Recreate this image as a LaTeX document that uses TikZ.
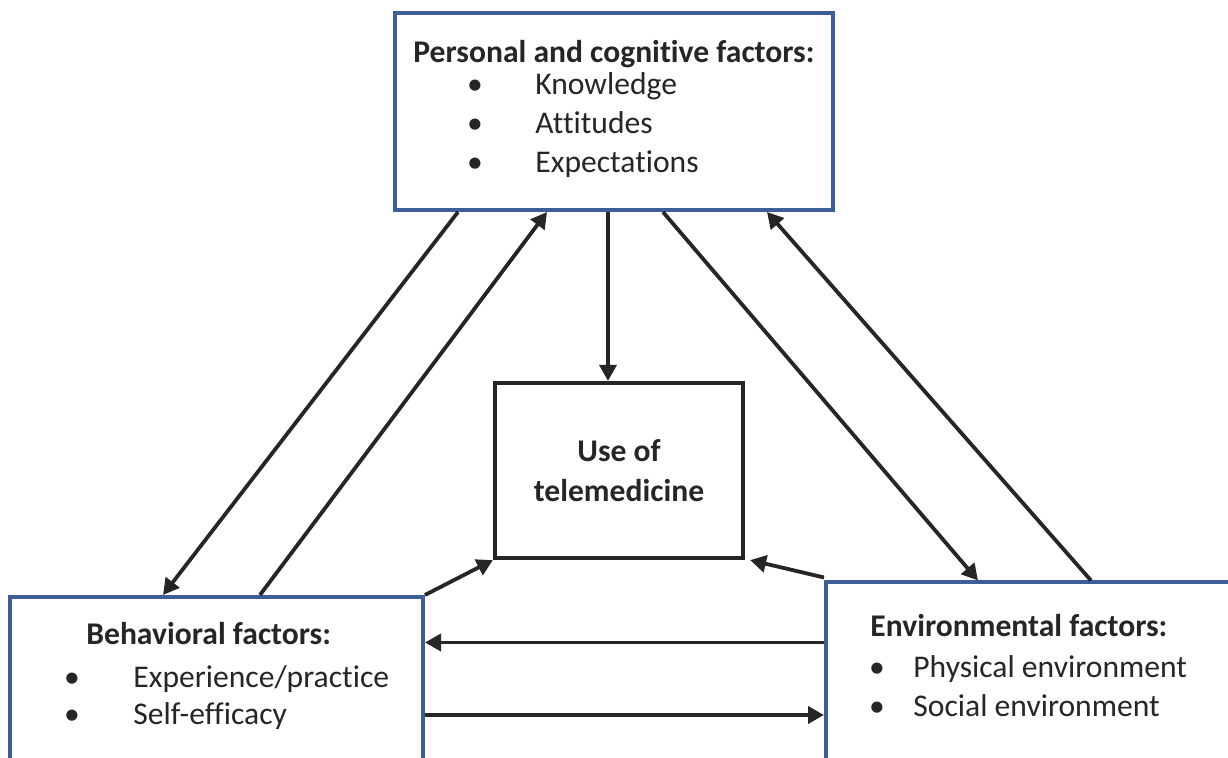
\documentclass[tikz,border=0pt]{standalone}
\usepackage{fontspec}
\setmainfont{Carlito}[Ligatures=NoCommon]
\usepackage{tikz}
\usetikzlibrary{arrows.meta, positioning}

\definecolor{boxblue}{RGB}{62,94,155}
\definecolor{ink}{RGB}{38,38,38}
\newcommand{\boxfont}{\fontsize{15.8}{19}\selectfont}

\tikzset{
  factor/.style = {draw=boxblue, line width=2pt, fill=white, rectangle},
  usebox/.style = {draw=ink, line width=2.1pt, fill=white, rectangle,
                   align=center, font=\boxfont\bfseries},
  head/.style   = {anchor=base west, inner sep=0pt, font=\boxfont\bfseries},
  item/.style   = {anchor=base west, inner sep=0pt, font=\boxfont},
  dot/.style    = {anchor=base, inner sep=0pt, font=\boxfont},
  arr/.style    = {draw=ink, line width=1.9pt,
                   -{Triangle[length=8pt,width=8.5pt]}},
}

\begin{document}
\begin{tikzpicture}[x=0.5pt, y=-0.5pt, color=ink]
  \useasboundingbox (0,0) rectangle (1228,758);
  \clip (0,0) rectangle (1228,758);

  % the four boxes
  \node[factor, minimum width=219pt, minimum height=98.5pt] (pers) at (614,111.5) {};
  \node[usebox, minimum width=124pt, minimum height=87.5pt] (use) at (619,470.5)
    {Use of\\[1pt]telemedicine};
  \node[factor, minimum width=206.5pt, minimum height=98pt] (behav) at (216.5,695) {};
  \node[factor, minimum width=207pt, minimum height=99pt] (envir) at (1033,681.5) {};

  % personal and cognitive factors
  \node[head] (persT) at (413,63) {Personal and cognitive factors:};
  \foreach \txt [count=\i] in {Knowledge, Attitudes, Expectations} {
    \node[dot]  (persD\i) at (475,56+39*\i) {\textbullet};
    \node[item] (persI\i) at (535,56+39*\i) {\txt};
  }

  % behavioral factors
  \node[head] (behavT) at (86,645) {Behavioral factors:};
  \node[dot]  (behavD1) at (72,688) {\textbullet};
  \node[item] (behavI1) at (133,688) {Experience/practice};
  \node[dot]  (behavD2) at (72,725) {\textbullet};
  \node[item] (behavI2) at (133,725) {Self-efficacy};

  % environmental factors
  \node[head] (envirT) at (870,637) {Environmental factors:};
  \node[dot]  (envirD1) at (877,678) {\textbullet};
  \node[item] (envirI1) at (913,678) {Physical environment};
  \node[dot]  (envirD2) at (877,717) {\textbullet};
  \node[item] (envirI2) at (913,717) {Social environment};

  % links between the boxes
  \draw[arr] ([xshift=32.5pt]pers.south west) -- ([xshift=77.5pt]behav.north west);
  \draw[arr] ([xshift=126pt]behav.north west) -- ([xshift=77pt]pers.south west);
  \draw[arr] ([xshift=-3pt]pers.south) -- ([xshift=-5.5pt]use.north);
  \draw[arr] ([xshift=135pt]pers.south west) -- ([xshift=77pt]envir.north west);
  \draw[arr] ([xshift=133.5pt]envir.north west) -- ([xshift=-34pt]pers.south east);
  \draw[arr] (behav.north east) -- (use.south west);
  \draw[arr] ([yshift=1.5pt]envir.north west) -- ([xshift=2.5pt]use.south east);

  \coordinate (envL) at ([yshift=-31pt]envir.north west);
  \coordinate (behR) at ([yshift=-60pt]behav.north east);
  \draw[arr] (envL) -- (envL -| behav.east);
  \draw[arr] (behR) -- (behR -| envir.west);
\end{tikzpicture}
\end{document}
